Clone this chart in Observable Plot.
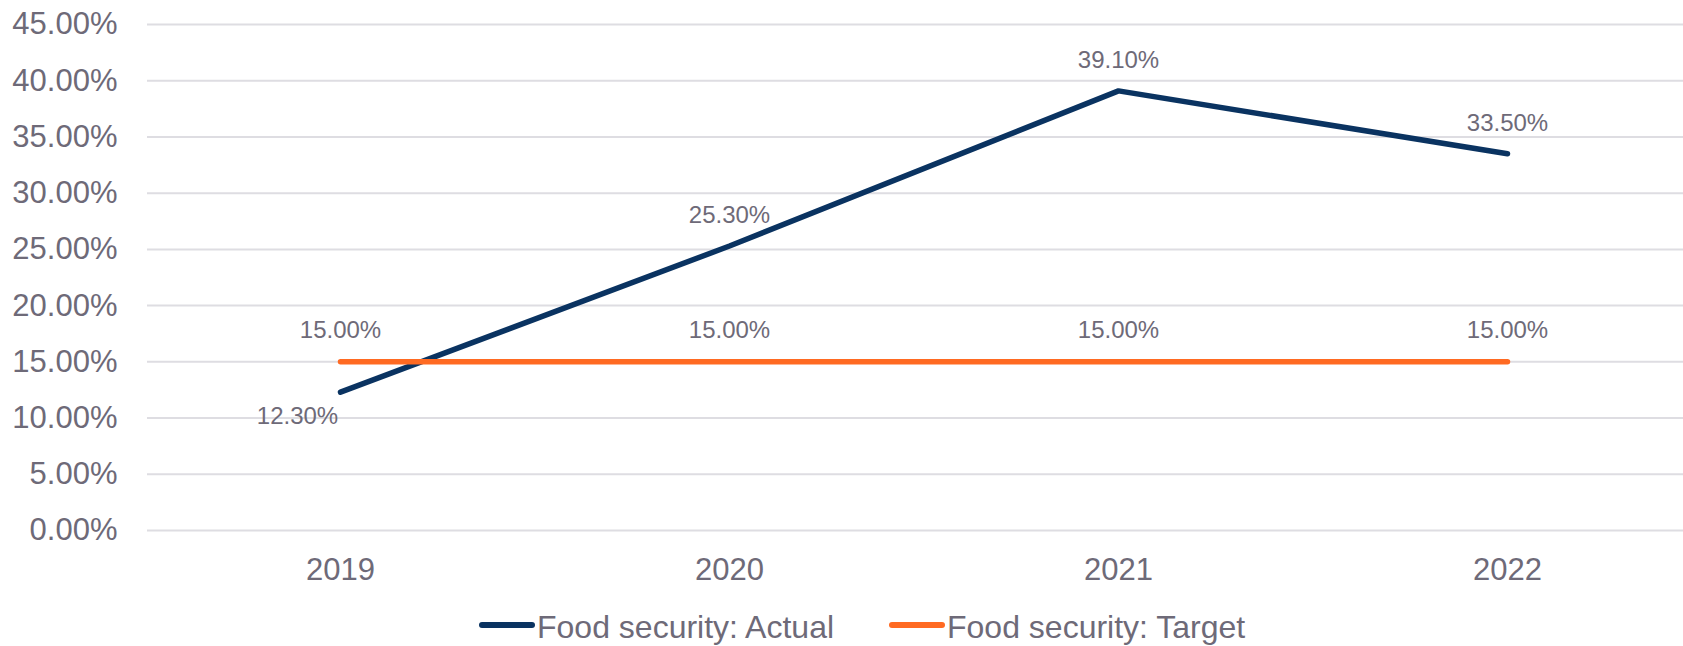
<!DOCTYPE html>
<html>
<head>
<meta charset="utf-8">
<script src="https://cdn.jsdelivr.net/npm/d3@7"></script>
<script src="https://cdn.jsdelivr.net/npm/@observablehq/plot@0.6"></script>
<style>
  html, body { margin: 0; padding: 0; background: #fff; }
  body { width: 1683px; height: 646px; overflow: hidden; font-family: "Liberation Sans", Arial, sans-serif; }
  #legend { position: relative; height: 46px; width: 1683px; }
  .item { position: absolute; top: 4px; height: 46px; display: flex; align-items: center; font-size: 32px; color: #6E6A78; white-space: nowrap; }
  .swatch { width: 56px; height: 6px; border-radius: 3px; margin-right: 2px; position: relative; top: -2px; }
</style>
</head>
<body>
<div id="chart"></div>
<div id="legend"></div>
<script>
const years = ["2019", "2020", "2021", "2022"];
const actual = [0.123, 0.253, 0.391, 0.335];
const target = [0.15, 0.15, 0.15, 0.15];
const seriesNames = ["Food security: Actual", "Food security: Target"];
const colors = ["#0A3361", "#FF6A22"];
const yTicks = [0, 0.05, 0.10, 0.15, 0.20, 0.25, 0.30, 0.35, 0.40, 0.45];

const textColor = "#6E6A78";
const actualRows = years.map((y, i) => ({year: y, value: actual[i], idx: i}));
const targetRows = years.map((y, i) => ({year: y, value: target[i], idx: i}));
const fmt = d3.format(".2%");

const plot = Plot.plot({
  width: 1683,
  height: 600,
  marginTop: 24,
  marginBottom: 70,
  marginLeft: 147,
  marginRight: 0,
  style: {fontFamily: "'Liberation Sans', Arial, sans-serif", color: textColor, background: "#fff"},
  x: {type: "point", domain: years, range: [340, 1507], padding: 0, label: null},
  y: {domain: [0, 0.45], label: null},
  marks: [
    Plot.ruleY(yTicks, {stroke: "#DEDDE2", strokeWidth: 2}),
    Plot.axisY({ticks: yTicks, tickFormat: fmt, tickSize: 0, tickPadding: 30, fontSize: 31, fill: textColor, label: null}),
    Plot.axisX({tickSize: 0, tickPadding: 27, fontSize: 31, fill: textColor, label: null}),
    Plot.line(actualRows, {x: "year", y: "value", stroke: colors[0], strokeWidth: 5.5, strokeLinecap: "round", strokeLinejoin: "miter"}),
    Plot.line(targetRows, {x: "year", y: "value", stroke: colors[1], strokeWidth: 5.5, strokeLinecap: "round"}),
    Plot.text(actualRows.filter(d => d.idx > 0), {x: "year", y: "value", text: d => fmt(d.value), lineAnchor: "bottom", dy: -23, fontSize: 24, fill: textColor}),
    Plot.text(actualRows.filter(d => d.idx === 0), {x: "year", y: "value", text: d => fmt(d.value), lineAnchor: "bottom", dy: 32, dx: -43, fontSize: 24, fill: textColor}),
    Plot.text(targetRows, {x: "year", y: "value", text: d => fmt(d.value), lineAnchor: "bottom", dy: -24, fontSize: 24, fill: textColor})
  ]
});
document.getElementById("chart").appendChild(plot);

const legend = document.getElementById("legend");
const lefts = [479, 889];
seriesNames.forEach((name, i) => {
  const item = document.createElement("div");
  item.className = "item";
  item.style.left = lefts[i] + "px";
  const sw = document.createElement("span");
  sw.className = "swatch";
  sw.style.background = colors[i];
  const label = document.createElement("span");
  label.textContent = name;
  item.appendChild(sw);
  item.appendChild(label);
  legend.appendChild(item);
});
</script>
</body>
</html>
